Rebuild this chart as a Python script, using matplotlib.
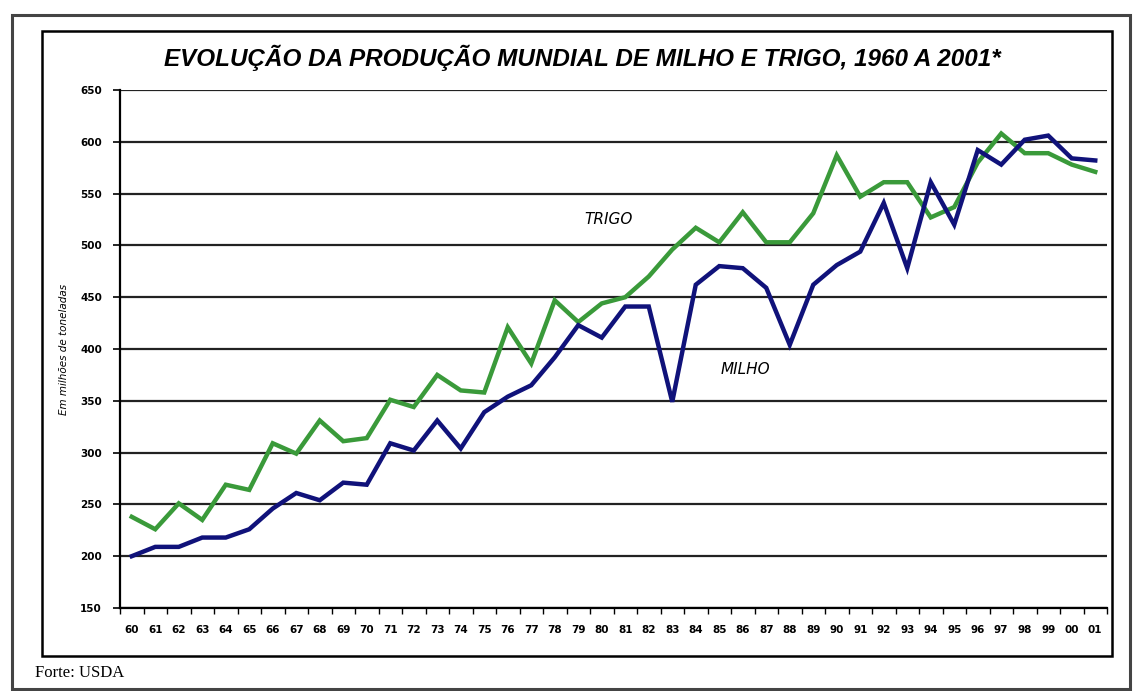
import numpy as np
import matplotlib
matplotlib.use("Agg")
import matplotlib.pyplot as plt
from matplotlib.patches import Rectangle

# world production, million tonnes
anos = ['60', '61', '62', '63', '64', '65', '66', '67', '68', '69',
        '70', '71', '72', '73', '74', '75', '76', '77', '78', '79',
        '80', '81', '82', '83', '84', '85', '86', '87', '88', '89',
        '90', '91', '92', '93', '94', '95', '96', '97', '98', '99',
        '00', '01']
milho = [200, 209, 209, 218, 218, 226, 246, 261, 254, 271,
         269, 309, 302, 331, 304, 339, 354, 365, 392, 423,
         411, 441, 441, 349, 462, 480, 478, 459, 404, 462,
         481, 494, 541, 478, 561, 520, 592, 578, 602, 606,
         584, 582]
trigo = [238, 226, 251, 235, 269, 264, 309, 299, 331, 311,
         314, 351, 344, 375, 360, 358, 421, 386, 447, 426,
         444, 450, 470, 496, 517, 503, 532, 503, 503, 531,
         587, 547, 561, 561, 527, 537, 580, 608, 589, 589,
         578, 571]
y_ticks = [150, 200, 250, 300, 350, 400, 450, 500, 550, 600, 650]

W, H = 1141, 691
fig = plt.figure(figsize=(W / 100, H / 100), dpi=100)

# frames (outer box and chart area box), pixel coords
def box(x0, y0, x1, y1, lw, color):
    fig.patches.append(Rectangle((x0 / W, 1 - y1 / H), (x1 - x0) / W, (y1 - y0) / H,
                                 transform=fig.transFigure, fill=False,
                                 lw=lw, edgecolor=color, zorder=0))

box(12, 15, 1130, 689, 2.2, '#444444')
box(42, 31, 1112, 656, 1.8, 'black')

ax = fig.add_axes([120 / W, 1 - 608 / H, (1107 - 120) / W, (608 - 90) / H])
x = np.arange(len(anos))

ax.plot(x, trigo, color='#3a9a3a', lw=3.2, solid_joinstyle='miter', zorder=3)
ax.plot(x, milho, color='#10127a', lw=3.2, solid_joinstyle='miter', zorder=4)

ax.set_xlim(-0.5, len(anos) - 0.5)
ax.set_ylim(150, 650)
ax.set_yticks(y_ticks)
ax.set_yticklabels([str(v) for v in y_ticks], fontsize=7.5, fontweight='bold')
ax.set_xticks(x)
ax.set_xticklabels(anos, fontsize=7.5, fontweight='bold')
ax.set_xticks(np.arange(-0.5, len(anos), 1), minor=True)
ax.tick_params(axis='x', which='major', length=0, pad=12)
ax.tick_params(axis='x', which='minor', length=4, width=1, direction='out')
ax.tick_params(axis='y', length=5, width=1.2, direction='out', pad=8)

ax.grid(axis='y', color='#222222', lw=1.6)
ax.set_axisbelow(True)
for s in ['top', 'right']:
    ax.spines[s].set_visible(False)
ax.spines['left'].set_linewidth(1.6)
ax.spines['bottom'].set_linewidth(1.6)

ax.set_ylabel('Em milhões de toneladas', fontsize=7.5, style='italic', labelpad=8)

ax.text(20.3, 525, 'TRIGO', fontsize=11, style='italic', ha='center', va='center')
ax.text(26.1, 380, 'MILHO', fontsize=11, style='italic', ha='center', va='center')

fig.text(582 / W, 1 - 58 / H,
         'EVOLUÇÃO DA PRODUÇÃO MUNDIAL DE MILHO E TRIGO, 1960 A 2001*',
         fontsize=17.5, fontweight='bold', style='italic', ha='center', va='center',
         family='Liberation Sans')
fig.text(35 / W, 1 - 673 / H, 'Forte: USDA', fontsize=12,
         family='Liberation Serif', ha='left', va='center')

fig.savefig('out.png', dpi=100)
